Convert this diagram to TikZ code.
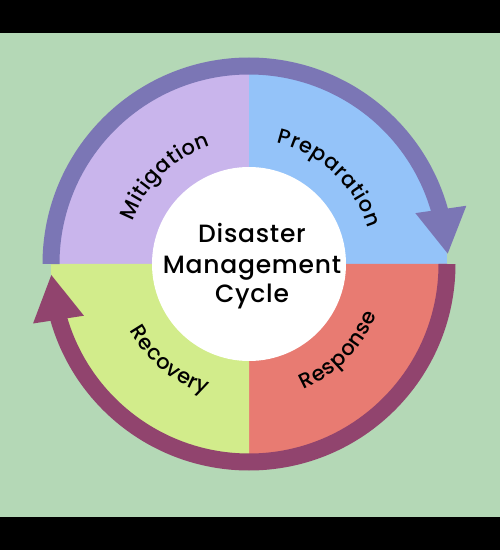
\documentclass[tikz,border=0pt]{standalone}
\usepackage{fontspec}
\setmainfont{Poppins}[UprightFont=* Medium]
\newfontfamily\hubfont{Poppins}[UprightFont=* Medium, LetterSpace=3]
\usetikzlibrary{decorations.text,calc}
\definecolor{bg}{RGB}{180,216,182}
\definecolor{purp}{RGB}{123,118,181}
\definecolor{lav}{RGB}{201,181,236}
\definecolor{blu}{RGB}{148,195,249}
\definecolor{salmon}{RGB}{232,123,114}
\definecolor{lime}{RGB}{210,236,139}
\definecolor{maro}{RGB}{145,68,110}
\newcommand\myarcsize{\fontsize{21}{22}\selectfont}
\begin{document}
\begin{tikzpicture}[x=1pt,y=1pt,
  band/.style={line width=17pt},
  hubtext/.style={anchor=base, inner sep=0pt, font=\hubfont\fontsize{25}{30}\selectfont},
  arclabel/.style={decorate, decoration={text along path, text align=center, text={|\myarcsize|#1}}}]
\useasboundingbox (0,0) rectangle (500,550);
\fill[black] (0,0) rectangle (500,550);
\fill[bg] (0,33) rectangle (500,517);
\coordinate (C) at (249,286);
% quadrants
\fill[lav] (C) -- ++(180:198) arc[start angle=180,end angle=90,radius=198] -- cycle;
\fill[blu] (C) -- ++(90:198) arc[start angle=90,end angle=0,radius=198] -- cycle;
\fill[salmon] (C) -- ++(0:198) arc[start angle=0,end angle=-90,radius=198] -- cycle;
\fill[lime] (C) -- ++(-90:198) arc[start angle=-90,end angle=-180,radius=198] -- cycle;
% hub
\node[circle, fill=white, minimum size=194pt, inner sep=0pt] (hub) at (C) {};
% arrows
\draw[purp, band] ($(C)+(180:198)$) arc[start angle=180,end angle=15.5,radius=198];
\fill[purp] ($(C)+(17:174)$) -- ($(C)+(15:225)$) -- ($(C)+(3:199)$) -- cycle;
\draw[maro, band] ($(C)+(0:198)$) arc[start angle=0,end angle=-164.5,radius=198];
\fill[maro] ($(C)+(197.4:173)$) -- ($(C)+(195.4:224)$) -- ($(C)+(183.2:198)$) -- cycle;
% centre text
\node[hubtext] (t1) at (252,307.7) {Disaster};
\node[hubtext] (t2) at (252,276) {Management};
\node[hubtext] (t3) at (252,247.3) {Cycle};
% curved labels
\path[arclabel={M{\kern0.6pt}i{\kern0.6pt}t{\kern0.6pt}i{\kern0.6pt}g{\kern0.6pt}a{\kern0.6pt}t{\kern0.6pt}i{\kern0.6pt}o{\kern0.6pt}n}] ($(C)+(200:124)$) arc[start angle=200,end angle=68,radius=124];
\path[arclabel={P{\kern0.6pt}r{\kern0.6pt}e{\kern0.6pt}p{\kern0.6pt}a{\kern0.6pt}r{\kern0.6pt}a{\kern0.6pt}t{\kern0.6pt}i{\kern0.6pt}o{\kern0.6pt}n}] ($(C)+(113:124)$) arc[start angle=113,end angle=-19,radius=124];
\path[arclabel={R{\kern0.6pt}e{\kern0.6pt}s{\kern0.6pt}p{\kern0.6pt}o{\kern0.6pt}n{\kern0.6pt}s{\kern0.6pt}e}] ($(C)+(-88:137)$) arc[start angle=-88,end angle=0,radius=137];
\path[arclabel={R{\kern0.6pt}e{\kern0.6pt}c{\kern0.6pt}o{\kern0.6pt}v{\kern0.6pt}e{\kern0.6pt}r{\kern0.6pt}y}] ($(C)+(186:137)$) arc[start angle=186,end angle=275,radius=137];
\end{tikzpicture}
\end{document}
